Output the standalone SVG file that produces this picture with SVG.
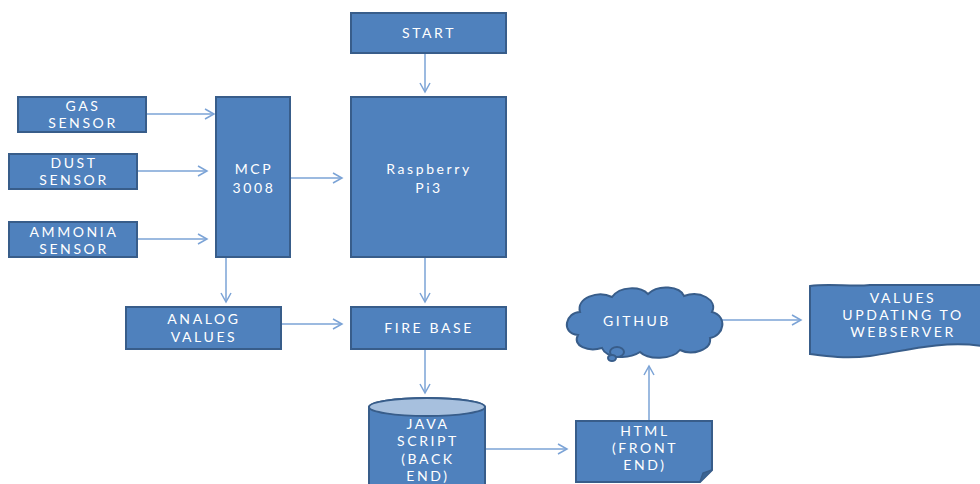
<svg xmlns="http://www.w3.org/2000/svg" width="980" height="484" viewBox="0 0 980 484">
<defs>
<style>
.box{fill:#4f81bd;stroke:#385d8a;stroke-width:2}
.t{fill:#fff;font-family:Lato,"Open Sans","Liberation Sans",sans-serif;font-size:14px;letter-spacing:2.6px;text-anchor:middle}
.c{stroke:#7ba3d6;stroke-width:1.5;fill:none;marker-end:url(#ah)}
</style>
<marker id="ah" markerWidth="12" markerHeight="12" refX="10" refY="6" orient="auto" markerUnits="userSpaceOnUse">
<path d="M1,1 L10,6 L1,11" fill="none" stroke="#7ba3d6" stroke-width="1.5"/>
</marker>
</defs>
<rect width="980" height="484" fill="#fff"/>
<g id="connectors">
<line class="c" x1="425" y1="53" x2="425" y2="92"/>
<line class="c" x1="146" y1="114" x2="214" y2="114"/>
<line class="c" x1="137" y1="171" x2="207" y2="171"/>
<line class="c" x1="137" y1="239" x2="207" y2="239"/>
<line class="c" x1="290" y1="178" x2="342" y2="178"/>
<line class="c" x1="226" y1="257" x2="226" y2="302"/>
<line class="c" x1="425" y1="257" x2="425" y2="302"/>
<line class="c" x1="281" y1="324" x2="342" y2="324"/>
<line class="c" x1="425" y1="349" x2="425" y2="393"/>
<line class="c" x1="486" y1="449" x2="567" y2="449"/>
<line class="c" x1="649" y1="421" x2="649" y2="366"/>
<line class="c" x1="722" y1="320" x2="801" y2="320"/>
</g>
<g id="start"><rect class="box" x="351" y="13" width="155" height="40"/><text class="t" x="429" y="38">START</text></g>
<g id="gas"><rect class="box" x="18" y="97" width="128" height="35"/><text class="t" x="83" y="111">GAS</text><text class="t" x="83" y="128">SENSOR</text></g>
<g id="dust"><rect class="box" x="9" y="154" width="128" height="35"/><text class="t" x="74" y="168">DUST</text><text class="t" x="74" y="185">SENSOR</text></g>
<g id="ammonia"><rect class="box" x="9" y="222" width="128" height="35"/><text class="t" x="74" y="237">AMMONIA</text><text class="t" x="74" y="254">SENSOR</text></g>
<g id="mcp"><rect class="box" x="216" y="97" width="74" height="160"/><text class="t" x="254" y="174">MCP</text><text class="t" x="254" y="193">3008</text></g>
<g id="pi"><rect class="box" x="351" y="97" width="155" height="160"/><text class="t" x="429" y="174">Raspberry</text><text class="t" x="429" y="193">Pi3</text></g>
<g id="analog"><rect class="box" x="126" y="307" width="155" height="42"/><text class="t" x="204" y="324">ANALOG</text><text class="t" x="204" y="342">VALUES</text></g>
<g id="firebase"><rect class="box" x="351" y="307" width="155" height="42"/><text class="t" x="429" y="333">FIRE BASE</text></g>
<g id="java">
<path class="box" d="M369,407 L369,486 L485,486 L485,407 A58,9 0 0 0 369,407 Z"/>
<ellipse cx="427" cy="407" rx="58" ry="9" fill="#a7c0de" stroke="#385d8a" stroke-width="2"/>
<text class="t" x="428" y="429">JAVA</text><text class="t" x="428" y="446">SCRIPT</text><text class="t" x="428" y="464">(BACK</text><text class="t" x="428" y="481">END)</text>
</g>
<g id="html">
<path class="box" d="M576,421 L712,421 L712,470 L700,482 L576,482 Z"/>
<path d="M700,482 L703,473 L712,470" fill="#3b6493" stroke="#385d8a" stroke-width="1.5"/>
<text class="t" x="645" y="436">HTML</text><text class="t" x="645" y="453">(FRONT</text><text class="t" x="645" y="470">END)</text>
</g>
<g id="github">
<path class="box" d="M578,335 C560,333 566,312 580,312 C576,298 598,290 612,297 C620,286 640,286 648,294 C658,284 680,286 684,296 C700,290 718,300 712,312 C728,316 724,336 710,338 C712,350 692,356 680,350 C672,360 648,360 640,352 C628,360 606,358 602,348 C588,352 572,346 578,335 Z"/>
<ellipse class="box" cx="617" cy="352" rx="7" ry="5"/>
<ellipse class="box" cx="612" cy="358" rx="4" ry="3"/>
<text class="t" x="637" y="326">GITHUB</text>
</g>
<g id="values">
<path class="box" d="M810,286 C830,283 850,287 870,285 L982,285 L982,346 C940,340 900,352 870,356 C845,359 825,356 810,354 Z"/>
<text class="t" x="903" y="303">VALUES</text><text class="t" x="903" y="320">UPDATING TO</text><text class="t" x="903" y="337">WEBSERVER</text>
</g>
</svg>
